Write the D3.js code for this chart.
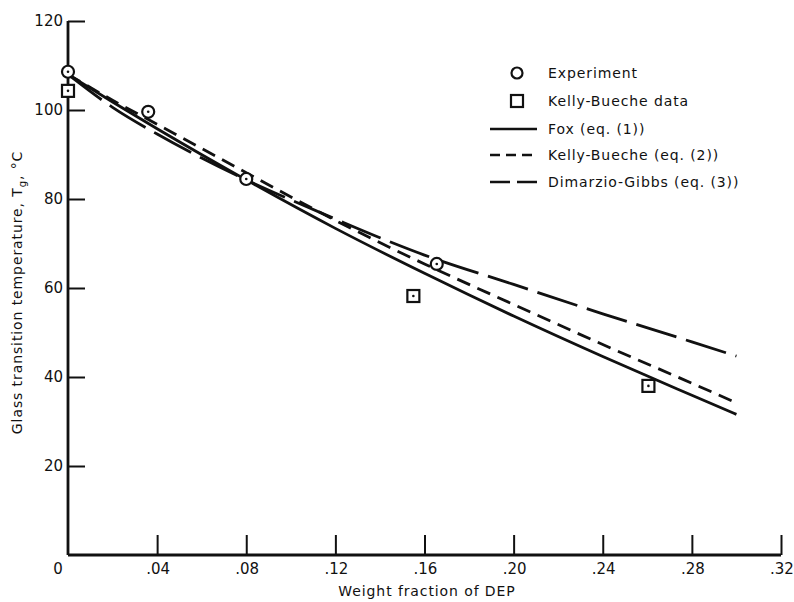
<!DOCTYPE html>
<html>
<head>
<meta charset="utf-8">
<script src="https://cdn.jsdelivr.net/npm/d3@7"></script>
<style>
  html, body { margin: 0; padding: 0; background: #fff; }
  svg text { font-family: "DejaVu Sans", "Liberation Sans", sans-serif; fill: #111; }
</style>
</head>
<body>
<div id="chart"></div>
<script>
/* ── Data ───────────────────────────────────────────────────────────── */
const xTicks      = [0, 0.04, 0.08, 0.12, 0.16, 0.20, 0.24, 0.28, 0.32];
const xTickLabels = ['0', '.04', '.08', '.12', '.16', '.20', '.24', '.28', '.32'];
const yTicks      = [20, 40, 60, 80, 100, 120];

// measured points
const experiment  = [[0, 108.6], [0.036, 99.6], [0.080, 84.5], [0.1655, 65.4]];
const kbData      = [[0, 104.3], [0.155, 58.2], [0.2605, 38.0]];

// curves
const foxW   = [0, 0.02, 0.04, 0.08, 0.12, 0.16, 0.20, 0.24, 0.28, 0.30];
const foxTg  = [108, 101.8, 95.8, 84.3, 73.4, 63.3, 53.7, 44.6, 35.9, 31.6];
const kbW    = [0, 0.02, 0.04, 0.08, 0.12, 0.16, 0.20, 0.24, 0.28, 0.30];
const kbTg   = [108, 102.2, 96.8, 85.9, 75.2, 65.4, 56.3, 47.3, 38.6, 34.2];
const dgW    = [0, 0.02, 0.04, 0.06, 0.08, 0.10, 0.12, 0.14, 0.16, 0.20, 0.24, 0.28, 0.30];
const dgTg   = [108, 100.6, 94.6, 89.2, 84.3, 79.8, 75.5, 71.3, 67.4, 60.8, 54.2, 47.9, 44.7];

const legendItems = [
  { label: 'Experiment',               type: 'circle' },
  { label: 'Kelly-Bueche data',        type: 'square' },
  { label: 'Fox (eq. (1))',            type: 'line', dash: null },
  { label: 'Kelly-Bueche (eq. (2))',   type: 'line', dash: '10,6' },
  { label: 'Dimarzio-Gibbs (eq. (3))', type: 'line', dash: '20,7' }
];

/* ── Scaffold ───────────────────────────────────────────────────────── */
const W = 794, H = 602;
const svg = d3.select('#chart').append('svg')
  .attr('width', W).attr('height', H)
  .attr('viewBox', `0 0 ${W} ${H}`);

const x = d3.scaleLinear().domain([0, 0.32]).range([68, 781]);
const y = d3.scaleLinear().domain([0, 120]).range([555, 21]);

const INK = '#111';
const LABEL_SIZE = 14;
const LABEL_SPACING = 0.9;

/* ── Axes ───────────────────────────────────────────────────────────── */
// y axis: ticks pointing inward
const yAxis = svg.append('g')
  .attr('transform', `translate(${x(0)},0)`)
  .call(d3.axisRight(y).tickValues(yTicks).tickSize(17).tickFormat(''))
  .call(sel => sel.select('.domain').attr('d', `M0,${y(0)}V${y(120)}`));
yAxis.selectAll('line').attr('stroke', INK).attr('stroke-width', 2);
yAxis.select('.domain').attr('stroke', INK).attr('stroke-width', 2.8);

svg.append('g').selectAll('text')
  .data(yTicks).join('text')
  .attr('x', x(0) - 5).attr('y', d => y(d))
  .attr('dy', '0.36em')
  .attr('text-anchor', 'end')
  .attr('font-size', 15)
  .text(d => d);

// x axis: ticks pointing inward (up)
const xAxis = svg.append('g')
  .attr('transform', `translate(0,${y(0)})`)
  .call(d3.axisTop(x).tickValues(xTicks.slice(1)).tickSize(20).tickFormat(''))
  .call(sel => sel.select('.domain').attr('d', `M${x(0)},0H${x(0.32)}`));
xAxis.selectAll('line').attr('stroke', INK).attr('stroke-width', 2);
xAxis.select('.domain').attr('stroke', INK).attr('stroke-width', 2.8);

svg.append('g').selectAll('text')
  .data(xTicks).join('text')
  .attr('x', (d, i) => i === 0 ? x(d) - 10 : x(d) + 1)
  .attr('y', y(0) + 19)
  .attr('text-anchor', 'middle')
  .attr('font-size', 15)
  .text((d, i) => xTickLabels[i]);

// axis titles
svg.append('text')
  .attr('x', 427).attr('y', 596)
  .attr('text-anchor', 'middle')
  .attr('font-size', LABEL_SIZE)
  .attr('letter-spacing', LABEL_SPACING)
  .text('Weight fraction of DEP');

const yTitle = svg.append('text')
  .attr('transform', `translate(22,${y(59)}) rotate(-90)`)
  .attr('text-anchor', 'middle')
  .attr('font-size', LABEL_SIZE)
  .attr('letter-spacing', LABEL_SPACING);
yTitle.append('tspan').text('Glass transition temperature, T');
yTitle.append('tspan').attr('font-size', 10).attr('dy', 4).text('g');
yTitle.append('tspan').attr('dy', -4).text(', °C');

/* ── Curves ─────────────────────────────────────────────────────────── */
const line = d3.line().x(d => x(d[0])).y(d => y(d[1])).curve(d3.curveMonotoneX);

function drawCurve(ws, tgs, dash) {
  svg.append('path')
    .datum(ws.map((w, i) => [w, tgs[i]]))
    .attr('d', line)
    .attr('fill', 'none')
    .attr('stroke', INK)
    .attr('stroke-width', 2.8)
    .attr('stroke-dasharray', dash);
}

drawCurve(foxW, foxTg, null);
drawCurve(kbW, kbTg, '14,8');
drawCurve(dgW, dgTg, '42,10');

/* ── Markers ────────────────────────────────────────────────────────── */
function circleMarker(g, cx, cy) {
  g.append('circle').attr('cx', cx).attr('cy', cy).attr('r', 6)
    .attr('fill', '#fff').attr('stroke', INK).attr('stroke-width', 2.2);
  g.append('circle').attr('cx', cx).attr('cy', cy).attr('r', 1.3).attr('fill', INK);
}
function squareMarker(g, cx, cy) {
  g.append('rect').attr('x', cx - 6).attr('y', cy - 6).attr('width', 12).attr('height', 12)
    .attr('fill', '#fff').attr('stroke', INK).attr('stroke-width', 2.2);
  g.append('circle').attr('cx', cx).attr('cy', cy).attr('r', 1.3).attr('fill', INK);
}

const marks = svg.append('g');
kbData.forEach(d => squareMarker(marks, x(d[0]), y(d[1])));
experiment.forEach(d => circleMarker(marks, x(d[0]), y(d[1])));

/* ── Legend ─────────────────────────────────────────────────────────── */
const legend = svg.append('g');
const legY = [73, 101, 129, 155, 182];
legendItems.forEach((item, i) => {
  const cy = legY[i];
  if (item.type === 'circle') {
    legend.append('circle').attr('cx', 517).attr('cy', cy).attr('r', 5.5)
      .attr('fill', 'none').attr('stroke', INK).attr('stroke-width', 2.2);
  } else if (item.type === 'square') {
    legend.append('rect').attr('x', 511).attr('y', cy - 6).attr('width', 12).attr('height', 12)
      .attr('fill', 'none').attr('stroke', INK).attr('stroke-width', 2.2);
  } else {
    legend.append('line')
      .attr('x1', 490).attr('x2', 537).attr('y1', cy).attr('y2', cy)
      .attr('stroke', INK).attr('stroke-width', 2.4)
      .attr('stroke-dasharray', item.dash);
  }
  legend.append('text')
    .attr('x', 548).attr('y', cy).attr('dy', '0.36em')
    .attr('font-size', LABEL_SIZE)
    .attr('letter-spacing', LABEL_SPACING)
    .text(item.label);
});
</script>
</body>
</html>
